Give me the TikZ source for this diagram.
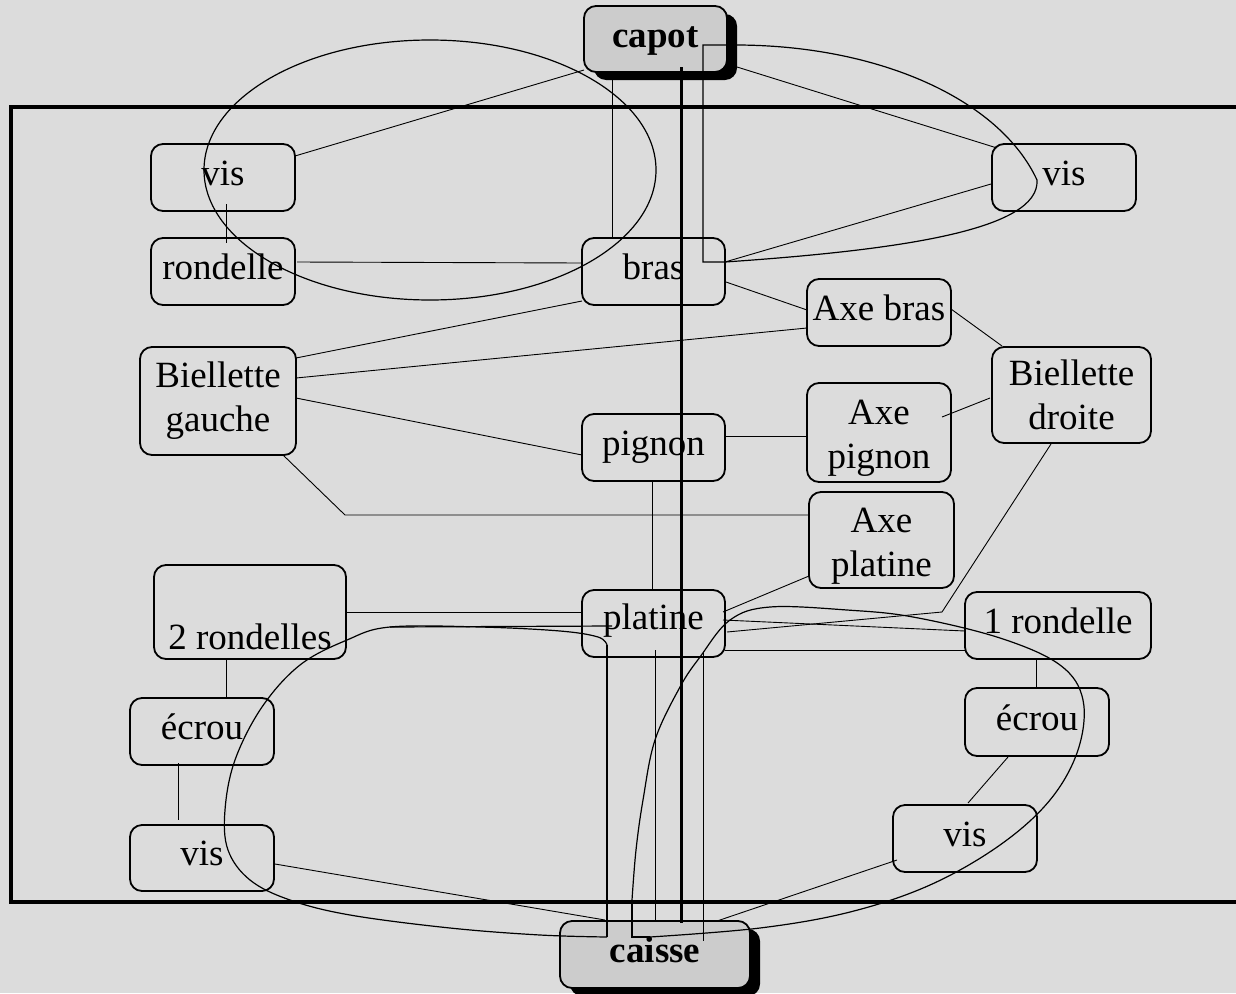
\documentclass[tikz,border=0pt]{standalone}
\usepackage{fontspec}
\setmainfont{Liberation Serif}
\usetikzlibrary{shadows}
\definecolor{paper}{RGB}{220,220,220}
\definecolor{hubfill}{RGB}{204,204,204}
\newcommand\partfont{\fontsize{37}{44}\selectfont}
\begin{document}
\begin{tikzpicture}[x=1pt,y=-1pt,
  part/.style={draw, line width=1.8pt, rounded corners=12pt, inner sep=0pt,
    align=center, font=\partfont, minimum width=144pt, minimum height=67pt},
  word/.style={part, text depth=9pt},
  hub/.style={part, fill=hubfill, font=\partfont\bfseries,
    drop shadow={shadow xshift=10pt, shadow yshift=-8pt, fill=black, opacity=1}},
  link/.style={line width=0.9pt},
  ring/.style={line width=1.2pt},
  spine/.style={line width=3pt},
  outline/.style={line width=4.5pt}]

% page and background
\useasboundingbox (0,0) rectangle (1236,993);
\clip (0,0) rectangle (1236,993);
\fill[paper] (0,0) rectangle (1236,993);

% enclosing frame
\draw[outline] (11,107) rectangle (1260,902);

% parts
\node[hub, minimum width=143pt, minimum height=66pt, text depth=3pt] (capot) at (655.5,39) {capot};
\node[hub, minimum width=190pt, text depth=9pt] (caisse) at (655,954.5) {caisse};
\node[word] (visA) at (223,177.5) {vis};
\node[word] (rondelle) at (223,271.5) {rondelle};
\node[word, minimum width=143pt] (bras) at (653.5,271.5) {bras};
\node[word] (visB) at (1064,177.5) {vis};
\node[word] (axebras) at (879,312.5) {Axe bras};
\node[part, minimum width=156pt, minimum height=108pt] (bg) at (218,401) {Biellette\\gauche};
\node[part, minimum width=159pt, minimum height=96pt] (bd) at (1071.5,395) {Biellette\\droite};
\node[part, minimum width=143pt] (pignon) at (653.5,447.5) {pignon};
\node[part, minimum height=99pt] (axepignon) at (879,432.5) {\rule{0pt}{36pt}Axe\\pignon};
\node[part, minimum width=145pt, minimum height=96pt] (axeplatine) at (881.5,540) {\rule{0pt}{36pt}Axe\\platine};
\node[part, minimum width=192pt, minimum height=94pt] (deuxr) at (250,612) {\rule{0pt}{32pt}\\2 rondelles};
\node[part, minimum width=143pt, text depth=14pt] (platine) at (653.5,623.5) {platine};
\node[word, minimum width=186pt] (unr) at (1058,625.5) {1 rondelle};
\node[word] (ecrouL) at (202,731.5) {écrou};
\node[word, minimum height=68pt] (ecrouR) at (1037,722) {écrou};
\node[word, minimum height=66pt] (visC) at (202,858) {vis};
\node[word] (visD) at (965,838.5) {vis};

% bends of the two broken connectors
\coordinate (bgbend) at (345,515);
\coordinate (bdbend) at (942,612);

% connectors
\draw[link] ([shift={(-71.5,31)}]capot.center) -- ([shift={(72,-21.5)}]visA.center);
\draw[link] ([shift={(-43.5,41)}]capot.center) -- ([shift={(-41.5,-33.5)}]bras.center);
\draw[link] ([shift={(81.5,28)}]capot.center) -- ([shift={(-67,-29.5)}]visB.center);
\draw[link] ([shift={(3,26.5)}]visA.center) -- ([shift={(3,-28.5)}]rondelle.center);
\draw[link] ([shift={(74,-9.5)}]rondelle.center) -- ([shift={(-71.5,-8.5)}]bras.center);
\draw[link] ([shift={(72.5,10.5)}]bras.center) -- ([shift={(-72,-2.5)}]axebras.center);
\draw[link] ([shift={(-71.5,29.5)}]bras.center) -- ([shift={(78,-43)}]bg.center);
\draw[link] ([shift={(-72,15.5)}]axebras.center) -- ([shift={(78,-23)}]bg.center);
\draw[link] ([shift={(72,-3.5)}]axebras.center) -- ([shift={(-69.5,-49)}]bd.center);
\draw[link] ([shift={(78,-3)}]bg.center) -- ([shift={(-71.5,7.5)}]pignon.center);
\draw[link] ([shift={(65,54)}]bg.center) -- (bgbend) -- ([shift={(-72.5,-25)}]axeplatine.center);
\draw[link] ([shift={(71.5,-11.5)}]pignon.center) -- ([shift={(-72,3.5)}]axepignon.center);
\draw[link] ([shift={(63,-15.5)}]axepignon.center) -- ([shift={(-81.5,3)}]bd.center);
\draw[link] ([shift={(-1.5,33.5)}]pignon.center) -- ([shift={(-1.5,-33.5)}]platine.center);
\draw[link] ([shift={(-73,6.5)}]visB.center) -- ([shift={(71.5,-9.5)}]bras.center);
\draw[link] ([shift={(69.5,-11.5)}]platine.center) -- ([shift={(-72.5,36)}]axeplatine.center);
\draw[link] ([shift={(-20.5,49)}]bd.center) -- (bdbend) -- ([shift={(73.5,8.5)}]platine.center);
\draw[link] ([shift={(69.5,-3.5)}]platine.center) -- ([shift={(-93,5.5)}]unr.center);
\draw[link] ([shift={(71.5,26.5)}]platine.center) -- ([shift={(-93,24.5)}]unr.center);
\draw[link] ([shift={(96,0)}]deuxr.center) -- ([shift={(-71.5,-11.5)}]platine.center);
\draw[link] ([shift={(2,26.5)}]platine.center) -- ([shift={(0.5,-32.5)}]caisse.center);
\draw[link] ([shift={(49.5,28.5)}]platine.center) -- ([shift={(48,-13.5)}]caisse.center);
\draw[link] ([shift={(73,6)}]visC.center) -- ([shift={(-50,-34.5)}]caisse.center);
\draw[link] ([shift={(-68,21.5)}]visD.center) -- ([shift={(62,-33.5)}]caisse.center);
\draw[link] ([shift={(-24,47)}]deuxr.center) -- ([shift={(24,-33.5)}]ecrouL.center);
\draw[link] ([shift={(-24,31.5)}]ecrouL.center) -- ([shift={(-24,-38)}]visC.center);
\draw[link] ([shift={(-22,33.5)}]unr.center) -- ([shift={(-1,-34)}]ecrouR.center);
\draw[link] ([shift={(-29,35)}]ecrouR.center) -- ([shift={(3,-35.5)}]visD.center);

% main axis from capot to caisse
\draw[spine] ([shift={(26,28)}]capot.center) -- ([shift={(26.5,-31.5)}]caisse.center);

% groupings
\draw[ring] (430,170) ellipse [x radius=226, y radius=130];
\draw[ring] (725,262) -- (703,262) -- (703,45) -- (735,45)
  .. controls (880,45) and (1000,100) .. (1037,180)
  .. controls (1040,230) and (900,250) .. (725,262);
\draw[ring] (607,645) -- (607,937);
\draw[ring] (390,627) -- (612,626);
\draw[ring] plot[smooth, tension=0.6] coordinates {(607,937) (540,935) (450,928) (350,915)
  (290,900) (250,880) (228,850) (225,810) (235,760) (262,707) (300,665) (347,640)
  (390,627) (480,627) (560,631) (598,637) (607,645)};
\draw[ring] (650,937) -- (632,937) -- (632,900);
\draw[ring] plot[smooth, tension=0.6] coordinates {(632,900) (636,850) (643,800) (655,740)
  (680,687) (700,657) (730,620) (770,607) (847,610) (913,617) (1000,638) (1060,665)
  (1083,700) (1078,750) (1050,800) (1000,845) (930,885) (850,912) (760,928) (650,937)};
\end{tikzpicture}
\end{document}
